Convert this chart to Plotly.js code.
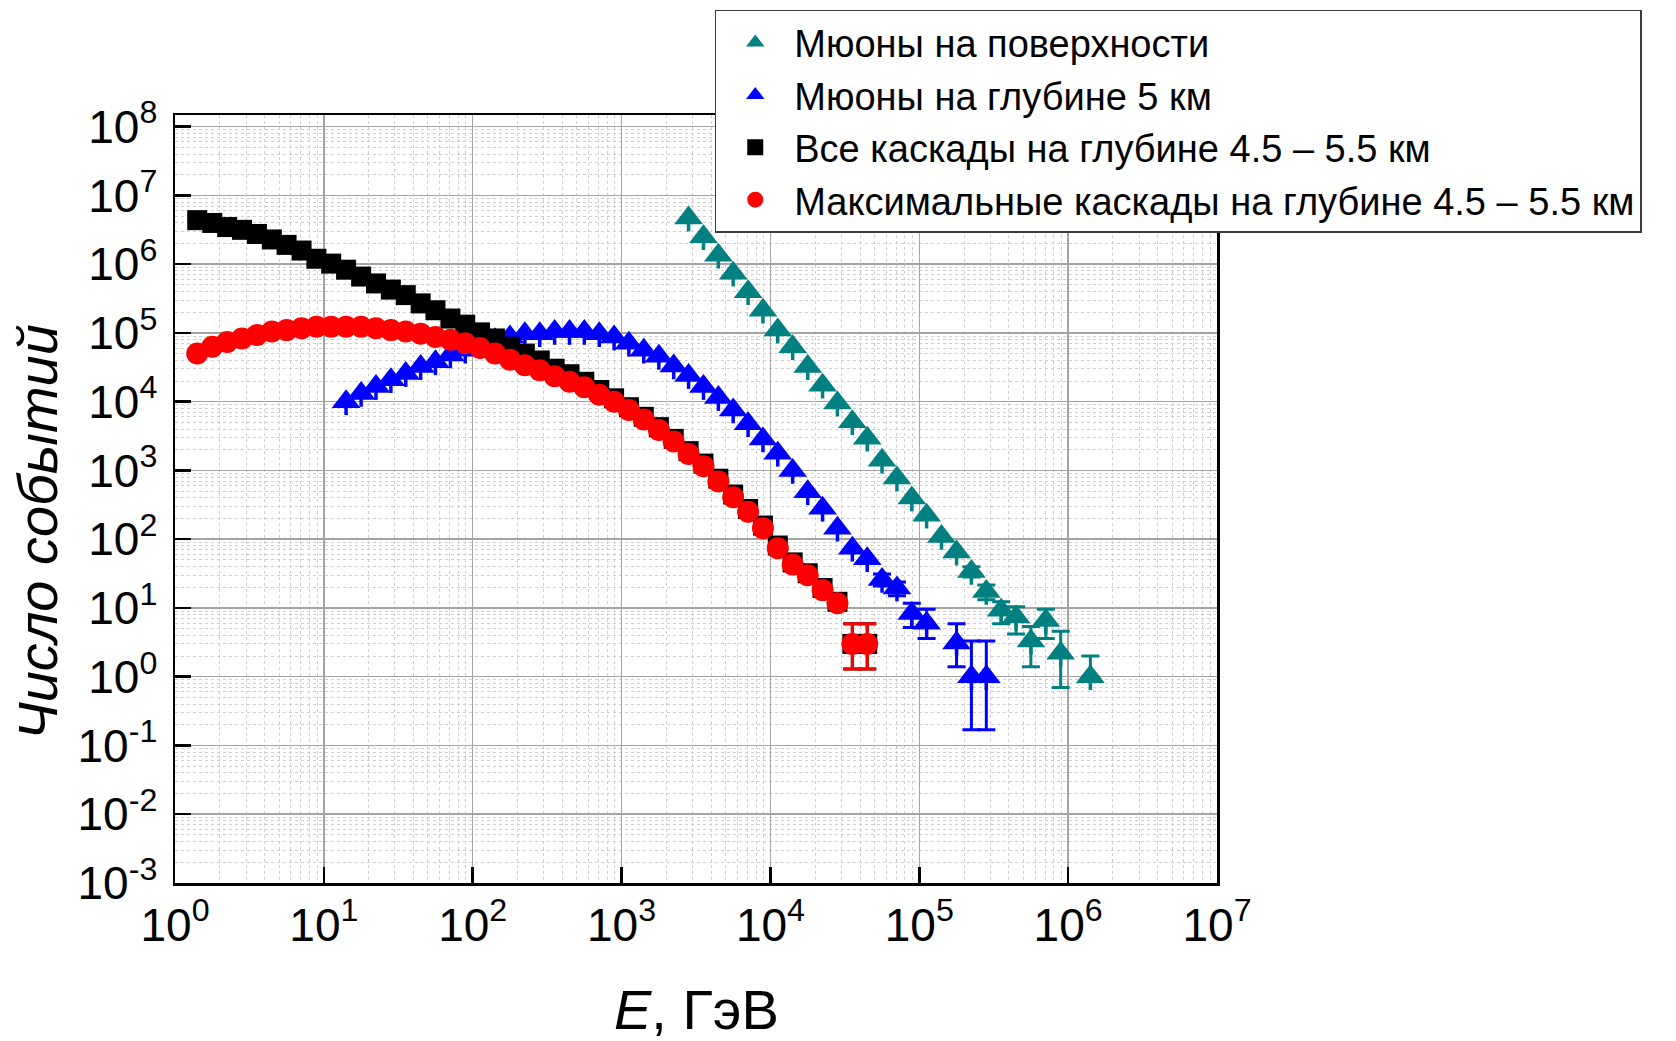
<!DOCTYPE html>
<html>
<head>
<meta charset="utf-8">
<script src="https://cdn.plot.ly/plotly-3.0.1.min.js"></script>
<style>
  html, body { margin: 0; padding: 0; background: #ffffff; }
  #chart { width: 1676px; height: 1041px; }
</style>
</head>
<body>
<div id="chart"></div>
<script>
// ---------------- DATA ----------------
const seriesNames = [
  'Мюоны на поверхности',
  'Мюоны на глубине 5 км',
  'Все каскады на глубине 4.5 – 5.5 км',
  'Максимальные каскады на глубине 4.5 – 5.5 км'
];

// Muons at the surface (teal triangles)
const tealE = [2820, 3550, 4470, 5620, 7080, 8910, 11200, 14100, 17800, 22400,
  28200, 35500, 44700, 56200, 70800, 89100, 112000, 141000, 178000, 224000,
  282000, 355000, 447000, 562000, 708000, 891000, 1410000];
const tealN = [4.68e6, 2.51e6, 1.35e6, 7.41e5, 3.98e5, 2.14e5, 1.10e5, 6.31e4, 3.24e4, 1.74e4,
  9550, 5130, 2950, 1410, 776, 398, 224, 110, 65, 34,
  17.4, 9.3, 7.4, 3.3, 6.6, 2.2, 1.0];
// visible error bars at the low-count tail (last points), + and -
const tealErrPlusTail  = [5.8, 4.2, 3.0, 3.0, 2.1, 3.0, 2.4, 1.0];
const tealErrMinusTail = [5.8, 4.2, 3.4, 3.2, 1.9, 3.0, 1.5, 0.0];

// Muons at 5 km depth (blue triangles)
const blueE = [14.1, 17.8, 22.4, 28.2, 35.5, 44.7, 56.2, 70.8, 89.1,
  112, 141, 178, 224, 282, 355, 447, 562, 708, 891,
  1120, 1410, 1780, 2240, 2820, 3550, 4470, 5620, 7080, 8910,
  11200, 14100, 17800, 22400, 28200, 35500, 44700, 56200, 70800, 89100,
  112000, 178000, 224000, 282000];
const blueN = [1.00e4, 1.32e4, 1.66e4, 2.09e4, 2.57e4, 3.24e4, 3.80e4, 4.79e4, 5.62e4,
  6.61e4, 7.94e4, 8.71e4, 9.77e4, 9.77e4, 1.05e5, 1.05e5, 1.05e5, 9.77e4, 8.71e4,
  7.08e4, 5.62e4, 4.57e4, 3.31e4, 2.40e4, 1.66e4, 1.15e4, 7590, 4790, 2880,
  1780, 1000, 490, 282, 145, 74, 52, 26, 19.5, 8.3,
  6.0, 3.1, 1.0, 1.0];
const blueErrPlusTail  = [5.1, 4.4, 3.4, 3.6, 2.8, 2.3, 2.3];
const blueErrMinusTail = [5.1, 4.4, 3.1, 2.4, 1.7, 0.83, 0.83];

// All cascades 4.5-5.5 km (black squares) and maximal cascades (red circles)
const cascE = [1.41, 1.78, 2.24, 2.82, 3.55, 4.47, 5.62, 7.08, 8.91,
  11.2, 14.1, 17.8, 22.4, 28.2, 35.5, 44.7, 56.2, 70.8, 89.1,
  112, 141, 178, 224, 282, 355, 447, 562, 708, 891,
  1120, 1410, 1780, 2240, 2820, 3550, 4470, 5620, 7080, 8910,
  11200, 14100, 17800, 22400, 28200, 35500, 44700];
const blackN = [4.37e6, 3.98e6, 3.47e6, 3.16e6, 2.75e6, 2.29e6, 1.91e6, 1.58e6, 1.20e6,
  1.02e6, 8.32e5, 6.61e5, 5.25e5, 4.27e5, 3.55e5, 2.69e5, 2.14e5, 1.62e5, 1.32e5,
  1.02e5, 8.32e4, 6.31e4, 5.01e4, 3.98e4, 3.02e4, 2.51e4, 1.95e4, 1.48e4, 1.12e4,
  8320, 6030, 4270, 2880, 1910, 1260, 759, 447, 275, 158,
  81, 46, 32, 19.5, 12.3, 3.0, 3.0];
const redN = [5.01e4, 6.31e4, 7.41e4, 8.32e4, 9.33e4, 1.05e5, 1.10e5, 1.17e5, 1.23e5,
  1.23e5, 1.23e5, 1.23e5, 1.17e5, 1.10e5, 1.05e5, 9.77e4, 8.71e4, 7.94e4, 7.08e4,
  6.03e4, 5.01e4, 4.07e4, 3.39e4, 2.88e4, 2.34e4, 1.95e4, 1.62e4, 1.26e4, 1.00e4,
  7590, 5500, 3890, 2630, 1740, 1150, 692, 407, 251, 145,
  74, 43, 30, 18.2, 11.7, 3.0, 3.0];
const cascErrPlusTail  = [2.9, 2.9];
const cascErrMinusTail = [1.7, 1.7];

// Tick labels
const xTickVals = [1, 10, 100, 1e3, 1e4, 1e5, 1e6, 1e7];
const xTickText = ['10<sup>0</sup>', '10<sup>1</sup>', '10<sup>2</sup>', '10<sup>3</sup>',
  '10<sup>4</sup>', '10<sup>5</sup>', '10<sup>6</sup>', '10<sup>7</sup>'];
const yTickVals = [1e-3, 1e-2, 1e-1, 1, 10, 100, 1e3, 1e4, 1e5, 1e6, 1e7, 1e8];
const yTickText = ['10<sup>-3</sup>', '10<sup>-2</sup>', '10<sup>-1</sup>', '10<sup>0</sup>',
  '10<sup>1</sup>', '10<sup>2</sup>', '10<sup>3</sup>', '10<sup>4</sup>', '10<sup>5</sup>',
  '10<sup>6</sup>', '10<sup>7</sup>', '10<sup>8</sup>'];

const xTitle = '<i>E</i>, ГэВ';
const yTitle = '<i>Число событий</i>';

// ---------------- STYLE ----------------
const TEAL = '#008080', BLUE = '#0000ff', BLACK = '#000000', RED = '#ff0000';
const FONT = 'Liberation Sans, Arial, Helvetica, sans-serif';

function padTail(tail, len) {
  return Array(len - tail.length).fill(NaN).concat(tail);
}

function errBar(plusTail, minusTail, len, color) {
  return {
    type: 'data', symmetric: false, visible: true,
    array: padTail(plusTail, len), arrayminus: padTail(minusTail, len),
    color: color, thickness: 3, width: 9
  };
}

function trunk(x, y, color) {
  // short stem under each triangle marker (error-bar look of the original)
  return {
    x: x, y: y, type: 'scatter', mode: 'markers',
    marker: { size: 1, opacity: 0 }, showlegend: false, hoverinfo: 'skip',
    error_y: { type: 'percent', symmetric: false, value: 0, valueminus: 36,
               color: color, thickness: 3.5, width: 0 }
  };
}

const traces = [
  trunk(tealE, tealN, TEAL),
  trunk(blueE, blueN, BLUE),
  {
    x: tealE, y: tealN, name: seriesNames[0], type: 'scatter', mode: 'markers',
    marker: { symbol: 'triangle-up', size: 25, color: TEAL },
    error_y: errBar(tealErrPlusTail, tealErrMinusTail, tealN.length, TEAL)
  },
  {
    x: blueE, y: blueN, name: seriesNames[1], type: 'scatter', mode: 'markers',
    marker: { symbol: 'triangle-up', size: 25, color: BLUE },
    error_y: errBar(blueErrPlusTail, blueErrMinusTail, blueN.length, BLUE)
  },
  {
    x: cascE, y: blackN, name: seriesNames[2], type: 'scatter', mode: 'markers',
    marker: { symbol: 'square', size: 20, color: BLACK },
    error_y: errBar(cascErrPlusTail, cascErrMinusTail, blackN.length, BLACK)
  },
  {
    x: cascE, y: redN, name: seriesNames[3], type: 'scatter', mode: 'markers',
    marker: { symbol: 'circle', size: 22, color: RED },
    error_y: errBar(cascErrPlusTail, cascErrMinusTail, redN.length, RED)
  }
];

const axisCommon = {
  type: 'log',
  tickmode: 'array',
  ticks: 'inside', ticklen: 16, tickwidth: 2.5, tickcolor: '#000',
  showline: true, linewidth: 2.5, linecolor: '#000', mirror: true,
  showgrid: true, gridcolor: '#a4a4a4', gridwidth: 1.5,
  zeroline: false,
  tickfont: { family: FONT, size: 46, color: '#000' },
  minor: { showgrid: true, dtick: 'D1', gridcolor: '#cfcfcf', griddash: 'dot', gridwidth: 1, ticks: '' }
};

const layout = {
  width: 1676, height: 1041,
  margin: { l: 175, r: 459, t: 115, b: 158, pad: 0, autoexpand: false },
  paper_bgcolor: '#ffffff', plot_bgcolor: '#ffffff',
  font: { family: FONT, color: '#000' },
  xaxis: Object.assign({}, axisCommon, {
    range: [0, 7], tickvals: xTickVals, ticktext: xTickText, ticklabelstandoff: 0
  }),
  yaxis: Object.assign({}, axisCommon, {
    range: [-3, 8.17], tickvals: yTickVals, ticktext: yTickText, ticklabelstandoff: 6
  }),
  showlegend: true,
  legend: {
    x: 0.518, y: 1.137, xanchor: 'left', yanchor: 'top',
    bgcolor: '#ffffff', bordercolor: '#3c3c3c', borderwidth: 1.5,
    font: { family: FONT, size: 38, color: '#000' },
    itemwidth: 68, tracegroupgap: 0
  },
  annotations: [
    { text: xTitle, xref: 'paper', yref: 'paper', x: 0.5, y: -0.165,
      xanchor: 'center', yanchor: 'middle', showarrow: false,
      font: { family: FONT, size: 56, color: '#000' } },
    { text: yTitle, xref: 'paper', yref: 'paper', x: -0.1324, y: 0.457,
      xanchor: 'center', yanchor: 'middle', showarrow: false, textangle: -90,
      font: { family: FONT, size: 56, color: '#000' } }
  ]
};

Plotly.newPlot('chart', traces, layout, { displayModeBar: false, staticPlot: true });
</script>
</body>
</html>
